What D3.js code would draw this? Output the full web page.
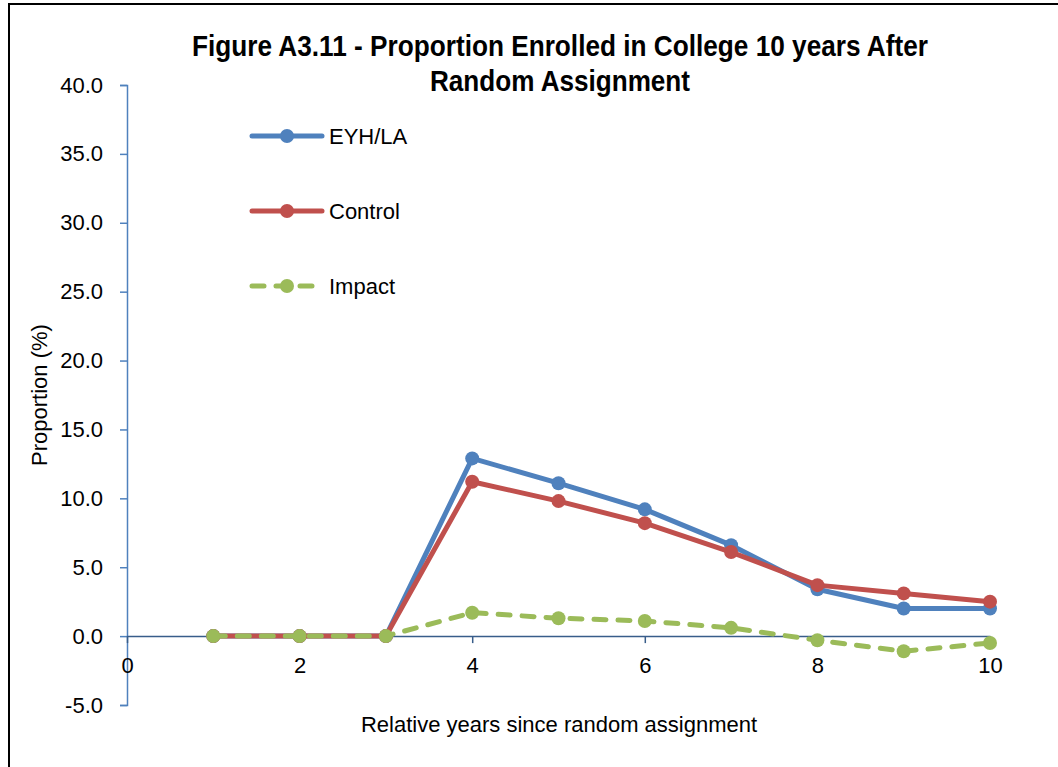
<!DOCTYPE html>
<html>
<head>
<meta charset="utf-8">
<script src="https://cdn.jsdelivr.net/npm/d3@7"></script>
<style>
  body { margin: 0; background: #fff; }
  svg text { font-family: "Liberation Sans Narrow", "Arial Narrow", "Liberation Sans", sans-serif; fill: #000; }
</style>
</head>
<body>
<div id="chart"></div>
<script>
// chart data
const years = [1, 2, 3, 4, 5, 6, 7, 8, 9, 10];
const eyhValues = [0, 0, 0, 12.9, 11.1, 9.2, 6.6, 3.4, 2.0, 2.0];
const controlValues = [0, 0, 0, 11.2, 9.8, 8.2, 6.1, 3.7, 3.1, 2.5];
const impactValues = [0, 0, 0, 1.7, 1.3, 1.1, 0.6, -0.3, -1.1, -0.5];
const seriesNames = ["EYH/LA", "Control", "Impact"];
const yTicks = [-5, 0, 5, 10, 15, 20, 25, 30, 35, 40];
const xTicks = [0, 2, 4, 6, 8, 10];
const titleLines = ["Figure A3.11 - Proportion Enrolled in College 10 years After", "Random Assignment"];
const titleWidths = [736, 260];

const width = 1058, height = 767;
const colors = ["#4F81BD", "#C0504D", "#9BBB59"];

let svg = d3.select("#chart").append("svg")
    .attr("width", width)
    .attr("height", height);

// outer frame (cut off on right / bottom)
svg.append("path")
    .attr("d", "M9,767 L9,4 L1058,4")
    .attr("fill", "none")
    .attr("stroke", "#000")
    .attr("stroke-width", 2);

let x = d3.scaleLinear().domain([0, 10]).range([127, 990]);
let y = d3.scaleLinear().domain([-5, 40]).range([705, 85]);

// title, squeezed to look like a narrow font
svg.append("g").selectAll("text")
    .data(titleLines)
    .enter().append("text")
    .attr("x", 560)
    .attr("y", (d, i) => 56 + i * 35)
    .attr("text-anchor", "middle")
    .attr("font-size", 30)
    .attr("font-weight", "bold")
    .attr("textLength", (d, i) => titleWidths[i])
    .attr("lengthAdjust", "spacingAndGlyphs")
    .text(d => d);

// y axis
let yFormat = d => d3.format(".1f")(d).replace("\u2212", "-");
let yAxis = svg.append("g")
    .attr("transform", "translate(" + x(0) + ",0)")
    .call(d3.axisLeft(y).tickValues(yTicks).tickSize(7).tickPadding(17).tickFormat(yFormat));
yAxis.select(".domain").attr("stroke", "#4F81BD").attr("stroke-width", 1.5);
yAxis.selectAll(".tick line").attr("stroke", "#4F81BD").attr("stroke-width", 1.5);
yAxis.selectAll(".tick text").attr("font-size", 22).attr("fill", "#000")
    .attr("font-family", "Liberation Sans Narrow, Arial Narrow, sans-serif");

// x axis at y = 0
let xAxis = svg.append("g")
    .attr("transform", "translate(0," + y(0) + ")")
    .call(d3.axisBottom(x).tickValues(xTicks).tickSize(7).tickPadding(14).tickSizeOuter(0));
xAxis.select(".domain").attr("stroke", "#385D8A").attr("stroke-width", 1.5);
xAxis.selectAll(".tick line").attr("stroke", "#385D8A").attr("stroke-width", 1.5);
xAxis.selectAll(".tick text").attr("font-size", 22).attr("fill", "#000")
    .attr("font-family", "Liberation Sans Narrow, Arial Narrow, sans-serif");

// axis titles
svg.append("text")
    .attr("transform", "translate(47,395) rotate(-90)")
    .attr("text-anchor", "middle")
    .attr("font-size", 22)
    .text("Proportion (%)");

svg.append("text")
    .attr("x", 559)
    .attr("y", 732)
    .attr("text-anchor", "middle")
    .attr("font-size", 22)
    .text("Relative years since random assignment");

// series
let series = [eyhValues, controlValues, impactValues].map((vals, i) => ({
    name: seriesNames[i],
    color: colors[i],
    dashed: i === 2,
    points: years.map((yr, j) => ({ x: yr, y: vals[j] }))
}));

let line = d3.line().x(d => x(d.x)).y(d => y(d.y));

let seriesG = svg.append("g").selectAll("g.series")
    .data(series)
    .enter().append("g")
    .attr("class", "series");

seriesG.append("path")
    .attr("d", d => line(d.points))
    .attr("fill", "none")
    .attr("stroke", d => d.color)
    .attr("stroke-width", 5)
    .attr("stroke-linejoin", "round")
    .attr("stroke-linecap", d => d.dashed ? "round" : "butt")
    .attr("stroke-dasharray", d => d.dashed ? "12,12" : null);

seriesG.selectAll("circle")
    .data(d => d.points.map(p => ({ p: p, color: d.color })))
    .enter().append("circle")
    .attr("cx", d => x(d.p.x))
    .attr("cy", d => y(d.p.y))
    .attr("r", 7)
    .attr("fill", d => d.color);

// legend
let legend = svg.append("g").selectAll("g.legend")
    .data(series)
    .enter().append("g")
    .attr("class", "legend")
    .attr("transform", (d, i) => "translate(252," + (136 + i * 75) + ")");

legend.append("line")
    .attr("x1", 0).attr("x2", 70)
    .attr("y1", 0).attr("y2", 0)
    .attr("stroke", d => d.color)
    .attr("stroke-width", 5)
    .attr("stroke-linecap", "round")
    .attr("stroke-dasharray", d => d.dashed ? "12,12" : null);

legend.append("circle")
    .attr("cx", 35).attr("cy", 0).attr("r", 7)
    .attr("fill", d => d.color);

legend.append("text")
    .attr("x", 77)
    .attr("y", 0)
    .attr("dy", "0.35em")
    .attr("font-size", 22)
    .text(d => d.name);
</script>
</body>
</html>
